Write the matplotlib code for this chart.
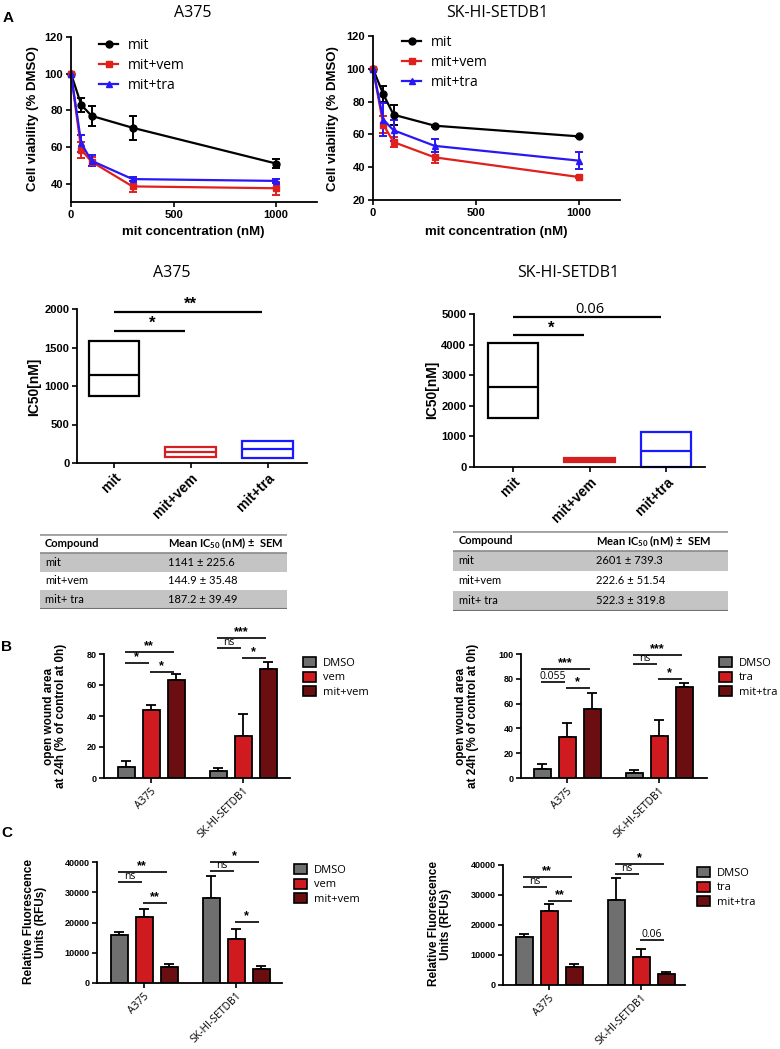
import numpy as np
import matplotlib
matplotlib.use('Agg')
import matplotlib.pyplot as plt
from matplotlib.lines import Line2D
from matplotlib.patches import Patch

plt.rcParams['font.family'] = ['Liberation Sans', 'DejaVu Sans']
plt.rcParams['mathtext.fontset'] = 'custom'
plt.rcParams['mathtext.rm'] = 'Lato'
plt.rcParams['mathtext.bf'] = 'Lato:bold'

W, H = 780, 1049

# panel A: viability curves
conc = [0, 50, 100, 300, 1000]
a375_mit = [100, 83, 77, 70.5, 51]
a375_mit_err = [0, 4, 5.5, 6.5, 2.5]
a375_vem = [100, 58.5, 52, 38.5, 37.5]
a375_vem_err = [0, 4.5, 2.5, 3, 3.5]
a375_tra = [100, 62, 52.5, 42.5, 41.5]
a375_tra_err = [0, 4.5, 3, 1, 1]
sk_mit = [100, 84.5, 72, 65.3, 58.8]
sk_mit_err = [0, 5, 6, 0.5, 0.5]
sk_vem = [100, 66, 55.3, 46, 34]
sk_vem_err = [0, 5, 3, 3.5, 0.5]
sk_tra = [100, 69, 62.5, 53, 44]
sk_tra_err = [0, 10, 6.5, 4, 5]
curve_names = ['mit', 'mit+vem', 'mit+tra']

# panel A: IC50 floating bars (min, max, mean)
ic50_groups = ['mit', 'mit+vem', 'mit+tra']
a375_ic50_low = [870, 75, 60]
a375_ic50_high = [1590, 205, 285]
a375_ic50_mean = [1141, 144.9, 187.2]
sk_ic50_low = [1600, 150, 0]
sk_ic50_high = [4050, 300, 1130]
sk_ic50_mean = [2601, 222.6, 522.3]
a375_ic50_sig = [(1, 1714, '*'), (2, 1960, '**')]
sk_ic50_sig = [(1, 4300, '*'), (2, 4900, '0.06')]

# tables
table_compounds = ['mit', 'mit+vem', 'mit+ tra']
a375_table = ['1141 ± 225.6', '144.9 ± 35.48', '187.2 ± 39.49']
sk_table = ['2601 ± 739.3', '222.6 ± 51.54', '522.3 ± 319.8']

# panels B and C
cell_lines = ['A375', 'SK-HI-SETDB1']
wound_vem = [[7, 44, 63], [4.5, 27, 70.5]]
wound_vem_err = [[4, 3, 4], [2, 14.5, 4.5]]
wound_tra = [[7.3, 33, 55.6], [4, 34, 73.4]]
wound_tra_err = [[4, 11.5, 13], [2.5, 12.5, 3]]
rfu_vem = [[15900, 21800, 5300], [28100, 14550, 4600]]
rfu_vem_err = [[1000, 2600, 1000], [7300, 3300, 1000]]
rfu_tra = [[16000, 24600, 6000], [28300, 9300, 3600]]
rfu_tra_err = [[1000, 2300, 1000], [7400, 2700, 700]]
wound_vem_sig = [[(0, 1, 74.2, '*'), (0, 2, 81.3, '**'), (1, 2, 68.4, '*')],
                 [(0, 1, 83.9, 'ns'), (0, 2, 90.3, '***'), (1, 2, 77.4, '*')]]
wound_tra_sig = [[(0, 1, 77.4, '0.055'), (0, 2, 87.9, '***'), (1, 2, 72.6, '*')],
                 [(0, 1, 92, 'ns'), (0, 2, 99, '***'), (1, 2, 79.8, '*')]]
rfu_vem_sig = [[(0, 1, 33400, 'ns'), (0, 2, 36700, '**'), (1, 2, 26400, '**')],
               [(0, 1, 37000, 'ns'), (0, 2, 40000, '*'), (1, 2, 20200, '*')]]
rfu_tra_sig = [[(0, 1, 32700, 'ns'), (0, 2, 36000, '**'), (1, 2, 28000, '**')],
               [(0, 1, 37000, 'ns'), (0, 2, 40300, '*'), (1, 2, 15000, '0.06')]]

line_colors = ['black', '#e0201c', '#2a17f5']
line_markers = ['o', 's', '^']
box_colors = ['black', '#d42020', '#1a1aff']
bar_colors = ['#6f6f6f', '#cf1a1f', '#6b0e11']

fig = plt.figure(figsize=(W / 100, H / 100), dpi=100)


def px_axes(l, t, r, b):
    return fig.add_axes([l / W, 1 - b / H, (r - l) / W, (b - t) / H])


def ftext(x, y, s, **kw):
    kw.setdefault('ha', 'center')
    kw.setdefault('va', 'center')
    return fig.text(x / W, 1 - y / H, s, **kw)


def style_axes(ax, size=7.5):
    for side in ['top', 'right']:
        ax.spines[side].set_visible(False)
    for side in ['left', 'bottom']:
        ax.spines[side].set_linewidth(1.3)
    ax.tick_params(width=1.2, length=3.5, labelsize=size, pad=2)
    for lab in ax.get_yticklabels() + ax.get_xticklabels():
        lab.set_fontweight('bold')


# ---------- viability curves ----------
def curve_panel(box, ylim, yticks, series, errs, leg_xy):
    ax = px_axes(*box)
    for y, e, c, m in zip(series, errs, line_colors, line_markers):
        ax.errorbar(conc, y, yerr=e, color=c, marker=m, ms=5, lw=1.6,
                    capsize=3, capthick=1.4, elinewidth=1.4, clip_on=False)
    ax.set_xlim(0, 1200)
    ax.set_ylim(*ylim)
    ax.set_xticks([0, 500, 1000])
    ax.set_yticks(yticks)
    style_axes(ax, size=8)
    handles = [Line2D([], [], color=c, marker=m, ms=5, lw=1.6)
               for c, m in zip(line_colors, line_markers)]
    ax.legend(handles, curve_names, loc='upper left', frameon=False,
              bbox_to_anchor=(leg_xy[0] / W, 1 - leg_xy[1] / H),
              bbox_transform=fig.transFigure, borderpad=0, borderaxespad=0,
              handlelength=1.4, handletextpad=0.7, labelspacing=0.35,
              prop={'family': 'Open Sans', 'size': 10})
    return ax


curve_panel((71, 37, 317, 202), (30, 120), [40, 60, 80, 100, 120],
            [a375_mit, a375_vem, a375_tra],
            [a375_mit_err, a375_vem_err, a375_tra_err], (99, 38))
curve_panel((373, 36, 620, 200), (20, 120), [20, 40, 60, 80, 100, 120],
            [sk_mit, sk_vem, sk_tra],
            [sk_mit_err, sk_vem_err, sk_tra_err], (402, 35))

ftext(8, 18, 'A', fontsize=11, fontweight='bold')
ftext(193, 13, 'A375', fontsize=11.5, family='Open Sans')
ftext(497, 13, 'SK-HI-SETDB1', fontsize=11.5, family='Open Sans')
for x in (33, 333):
    ftext(x, 119, 'Cell viability (% DMSO)', rotation=90, fontsize=9.5,
          fontweight='bold')
ftext(193, 232, 'mit concentration (nM)', fontsize=9.5, fontweight='bold')
ftext(496, 232, 'mit concentration (nM)', fontsize=9.5, fontweight='bold')


# ---------- IC50 floating bars ----------
def ic50_panel(box, xlim, ylim, yticks, low, high, mean, sig):
    ax = px_axes(*box)
    for i, (lo, hi, mu, c) in enumerate(zip(low, high, mean, box_colors)):
        ax.bar(i, hi - lo, bottom=lo, width=0.66, fill=False, edgecolor=c,
               lw=1.6, clip_on=False)
        ax.hlines(mu, i - 0.33, i + 0.33, color=c, lw=1.6)
    for j, y, lab in sig:
        ax.hlines(y, 0, j - 0.07, color='black', lw=1.6, clip_on=False)
        star = '*' in lab
        ax.text(j / 2, y, lab, ha='center', va='bottom', clip_on=False,
                fontsize=12 if star else 10.5,
                fontweight='bold' if star else 'normal',
                family=None if star else 'Open Sans')
    ax.set_xlim(*xlim)
    ax.set_ylim(*ylim)
    ax.set_yticks(yticks)
    ax.set_xticks(range(len(ic50_groups)))
    ax.set_xticklabels(ic50_groups, rotation=45, ha='right',
                       rotation_mode='anchor')
    style_axes(ax, size=8)
    for lab in ax.get_xticklabels():
        lab.set_fontsize(10)
    return ax


ic50_panel((77, 309, 307, 463), (-0.48, 2.51), (0, 2000),
           [0, 500, 1000, 1500, 2000], a375_ic50_low, a375_ic50_high,
           a375_ic50_mean, a375_ic50_sig)
ic50_panel((474, 314, 705, 467), (-0.51, 2.51), (0, 5000),
           [0, 1000, 2000, 3000, 4000, 5000], sk_ic50_low, sk_ic50_high,
           sk_ic50_mean, sk_ic50_sig)
ftext(172, 273, 'A375', fontsize=11.5, family='Open Sans')
ftext(568, 273, 'SK-HI-SETDB1', fontsize=11.5, family='Open Sans')
ftext(34, 387, 'IC50[nM]', rotation=90, fontsize=10, fontweight='bold')
ftext(432, 390, 'IC50[nM]', rotation=90, fontsize=10, fontweight='bold')


# ---------- tables ----------
def table_panel(box, values):
    ax = px_axes(*box)
    ax.set_xlim(0, 1)
    ax.set_ylim(4, 0)
    ax.axis('off')
    for r in (1, 3):
        ax.axhspan(r, r + 1, color='#c4c4c4', lw=0)
    ax.axhline(0, color='#a0a0a0', lw=2)
    ax.axhline(1, color='#8a8a8a', lw=1.2)
    ax.axhline(4, color='#707070', lw=1.5)
    ax.text(0.02, 0.5, 'Compound', va='center', fontsize=8,
            fontweight='bold', family='Lato')
    ax.text(0.52, 0.5, r'Mean IC$_{\mathbf{50}}$ (nM) ±  SEM', va='center',
            fontsize=8, fontweight='bold', family='Lato')
    for r, (comp, val) in enumerate(zip(table_compounds, values)):
        ax.text(0.02, r + 1.5, comp, va='center', fontsize=8, family='Lato')
        ax.text(0.52, r + 1.5, val, va='center', fontsize=8, family='Lato')


table_panel((40, 534, 287, 609), a375_table)
table_panel((453, 531, 728, 611), sk_table)


# ---------- grouped bars ----------
def bar_panel(box, xlim, ylim, yticks, vals, errs, sigs, names, leg_xy, ylab,
              ylab_xy):
    ax = px_axes(*box)
    group_gap = 3.68
    for g, (gv, ge, gs) in enumerate(zip(vals, errs, sigs)):
        pos = [g * group_gap + k - 1 for k in range(3)]
        ax.bar(pos, gv, width=0.68, color=bar_colors, edgecolor='black',
               lw=1.3, zorder=2)
        ax.errorbar(pos, gv, yerr=[[0] * 3, ge], fmt='none', ecolor='black',
                    elinewidth=1.3, capsize=3.5, capthick=1.3, zorder=1)
        for i, j, y, lab in gs:
            x1, x2 = pos[i] - 0.05, pos[j] - 0.1
            ax.hlines(y, x1, x2, color='black', lw=1.2, clip_on=False)
            star = '*' in lab
            ax.text((x1 + x2) / 2, y, lab, ha='center', va='bottom',
                    fontsize=9 if star else 7.5, clip_on=False,
                    fontweight='bold' if star else 'normal',
                    family=None if star else 'Open Sans')
    ax.set_xlim(*xlim)
    ax.set_ylim(*ylim)
    ax.set_yticks(yticks)
    ax.set_xticks([0, group_gap])
    ax.set_xticklabels(cell_lines, rotation=45, ha='right',
                       rotation_mode='anchor')
    style_axes(ax, size=6.5)
    for lab in ax.get_xticklabels():
        lab.set_fontweight('normal')
        lab.set_fontsize(7.5)
        lab.set_family('Open Sans')
    handles = [Patch(facecolor=c, edgecolor='black', lw=1.2)
               for c in bar_colors]
    ax.legend(handles, names, loc='upper left', frameon=False,
              bbox_to_anchor=(leg_xy[0] / W, 1 - leg_xy[1] / H),
              bbox_transform=fig.transFigure, borderpad=0, borderaxespad=0,
              handlelength=1.2, handleheight=1.0, handletextpad=0.6,
              labelspacing=0.25, prop={'family': 'Open Sans', 'size': 8})
    ftext(ylab_xy[0], ylab_xy[1], ylab, rotation=90, fontsize=8.5,
          fontweight='bold', linespacing=1.1)
    return ax


wound_label = 'open wound area\nat 24h (% of control at 0h)'
rfu_label = 'Relative Fluorescence\nUnits (RFUs)'
bar_panel((104, 654, 290, 778), (-1.88, 5.56), (0, 80), [0, 20, 40, 60, 80],
          wound_vem, wound_vem_err, wound_vem_sig, ['DMSO', 'vem', 'mit+vem'],
          (303, 657), wound_label, (55, 716))
bar_panel((521, 654, 707, 778), (-1.84, 5.6), (0, 100),
          [0, 20, 40, 60, 80, 100], wound_tra, wound_tra_err, wound_tra_sig,
          ['DMSO', 'tra', 'mit+tra'], (719, 657), wound_label, (467, 716))
bar_panel((97, 862, 282, 983), (-1.88, 5.52), (0, 40000),
          [0, 10000, 20000, 30000, 40000], rfu_vem, rfu_vem_err, rfu_vem_sig,
          ['DMSO', 'vem', 'mit+vem'], (294, 864), rfu_label, (35, 922))
bar_panel((503, 865, 685, 985), (-1.84, 5.44), (0, 40000),
          [0, 10000, 20000, 30000, 40000], rfu_tra, rfu_tra_err, rfu_tra_sig,
          ['DMSO', 'tra', 'mit+tra'], (697, 867), rfu_label, (440, 924))

ftext(7, 647, 'B', fontsize=11, fontweight='bold')
ftext(7, 833, 'C', fontsize=11, fontweight='bold')

fig.savefig('out.png', dpi=100)
